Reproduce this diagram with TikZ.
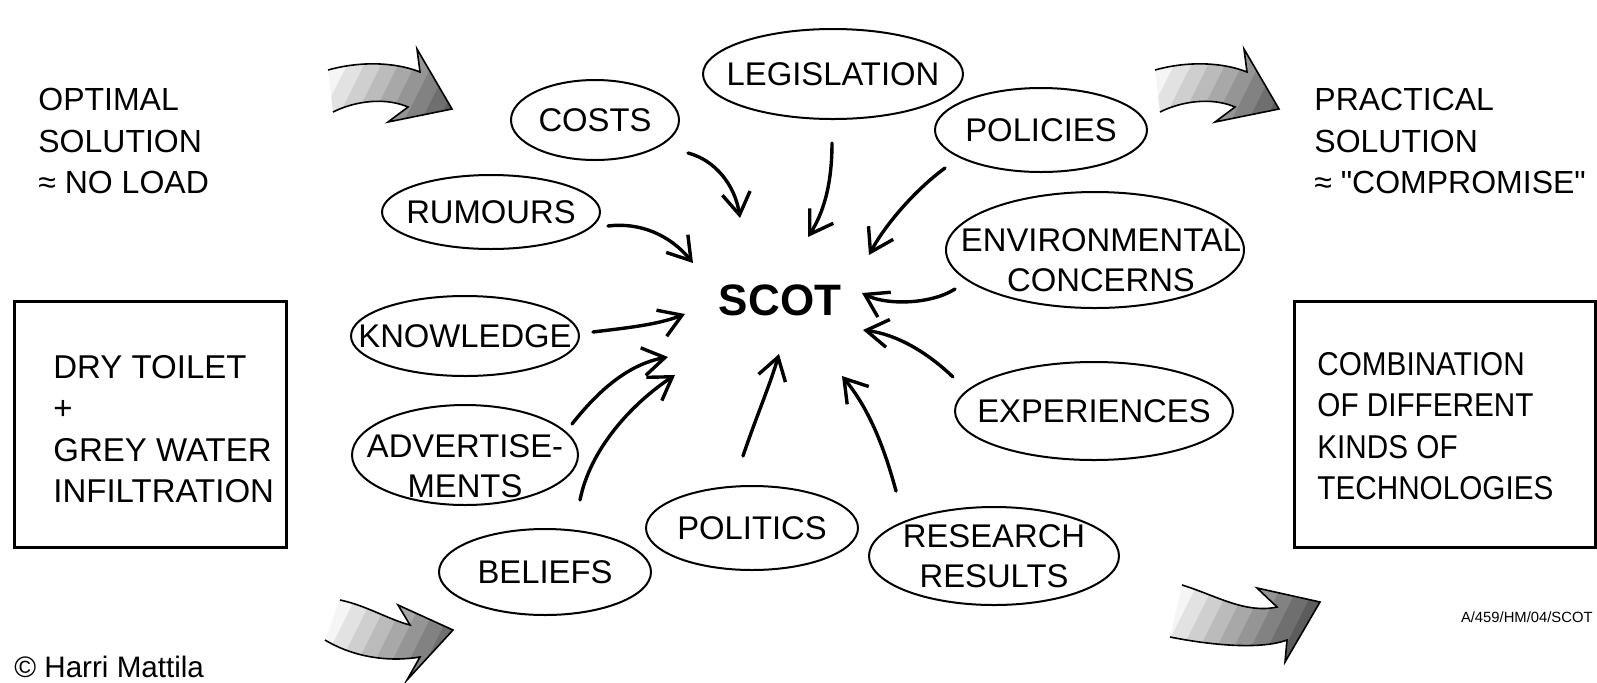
\documentclass[tikz,border=0pt]{standalone}
\usepackage{fontspec}
\setmainfont{Liberation Sans}
\newfontfamily\condfont[FakeStretch=0.9]{Liberation Sans}
\newfontfamily\qfont{Liberation Sans}
\usetikzlibrary{shapes.geometric,arrows.meta}
\newcommand\gstripes[3]{%
  \foreach \i in {0,...,11}{%
    \pgfmathsetmacro\gpct{4+7.5*\i}%
    \fill[black!\gpct] ({#1+17*\i},#3) -- ({#1+17*\i+17.6},#3) -- ({#1+17*\i+17.6+0.5*(#3-#2)},#2) -- ({#1+17*\i+0.5*(#3-#2)},#2) -- cycle;
  }}
\def\aTL{(328,70) .. controls (360,61) and (395,62) .. (420,72) -- (417,49) -- (452,109) -- (388,122) -- (408,107) .. controls (385,97) and (355,101) .. (333,112)}
\def\aBL{(340,600) .. controls (365,605) and (390,620) .. (410,625) -- (398,605) -- (453,630) -- (407,680) -- (420,657) .. controls (390,662) and (355,658) .. (325,640)}
\def\aBR{(1182,585) .. controls (1215,595) and (1245,614) .. (1277,607) -- (1257,588) -- (1320,602) -- (1285,662) -- (1287,640) .. controls (1260,650) and (1210,645) .. (1170,637)}
\begin{document}
\begin{tikzpicture}[x=0.5pt,y=-0.5pt,
  bubble/.style={ellipse,draw,line width=1pt,inner sep=0pt},
  btxt/.style={font=\fontsize{16.4pt}{20pt}\selectfont,align=center,inner sep=0pt},
  txt/.style={font=\fontsize{16pt}{20.75pt}\selectfont,align=left,inner sep=0pt,anchor=north west},
  conn/.style={line width=1.7pt,line cap=round,line join=round,-{Straight Barb[length=11pt,width=14pt]}},
  frame/.style={draw,line width=1.3pt,inner sep=0pt,anchor=north west},
  garrow/.style={draw,line width=0.8pt,line join=miter}
]
\useasboundingbox (0,0) rectangle (1597,682);

% gradient arrows
\begin{scope}
  \clip \aTL -- cycle;
  \gstripes{298}{44}{129}
\end{scope}
\draw[garrow] \aTL;
\begin{scope}[shift={(827,0)}]
  \begin{scope}
    \clip \aTL -- cycle;
    \gstripes{298}{44}{129}
  \end{scope}
  \draw[garrow] \aTL;
\end{scope}
\begin{scope}
  \clip \aBL -- cycle;
  \gstripes{295}{595}{685}
\end{scope}
\draw[garrow] \aBL;
\begin{scope}
  \clip \aBR -- cycle;
  \gstripes{1140}{580}{665}
\end{scope}
\draw[garrow] \aBR;

% side texts
\node[txt] (optimal) at (38,88) {OPTIMAL\\SOLUTION\\≈ NO LOAD};
\node[txt] (practical) at (1314,88) {PRACTICAL\\SOLUTION\\≈ {\qfont"}COMPROMISE{\qfont"}};

\node[frame,minimum width=136pt,minimum height=123pt] (lbox) at (13,300) {};
\node[txt,font=\fontsize{16.5pt}{20.75pt}\selectfont] (ltext) at (53,355) {DRY TOILET\\+\\GREY WATER\\INFILTRATION};
\node[frame,minimum width=150.5pt,minimum height=123pt] (rbox) at (1293,300) {};
\node[txt,font=\fontsize{16.5pt}{20.75pt}\condfont] (rtext) at (1317,352) {COMBINATION\\OF DIFFERENT\\KINDS OF\\TECHNOLOGIES};

% centre
\node[font=\fontsize{22pt}{24pt}\selectfont\bfseries,inner sep=0pt] (scot) at (780,300) {SCOT};

% bubbles
\node[bubble,minimum width=130pt,minimum height=45pt,label={[btxt]center:LEGISLATION}] (legis) at (833,74) {};
\node[bubble,minimum width=84pt,minimum height=40pt,label={[btxt]center:COSTS}] (costs) at (595,120) {};
\node[bubble,minimum width=106pt,minimum height=42pt,label={[btxt]center:POLICIES}] (policies) at (1041,130) {};
\node[bubble,minimum width=109pt,minimum height=37pt,label={[btxt]center:RUMOURS}] (rumours) at (491,212) {};
\node[bubble,minimum width=149pt,minimum height=58pt,label={[btxt,yshift=-5pt,xshift=3pt]center:{ENVIRONMENTAL\\CONCERNS}}] (env) at (1095,250) {};
\node[bubble,minimum width=114pt,minimum height=40pt,label={[btxt]center:KNOWLEDGE}] (knowledge) at (465,336) {};
\node[bubble,minimum width=139pt,minimum height=49pt,label={[btxt]center:EXPERIENCES}] (experiences) at (1094,411) {};
\node[bubble,minimum width=113pt,minimum height=50pt,label={[btxt,yshift=-5.5pt]center:{ADVERTISE-\\MENTS}}] (advert) at (465,455) {};
\node[bubble,minimum width=106pt,minimum height=42pt,label={[btxt]center:POLITICS}] (politics) at (752,528) {};
\node[bubble,minimum width=125pt,minimum height=49pt,label={[btxt]center:{RESEARCH\\RESULTS}}] (research) at (994,556) {};
\node[bubble,minimum width=106pt,minimum height=43pt,label={[btxt]center:BELIEFS}] (beliefs) at (545,572) {};

% connectors
\draw[conn] ([shift={(93,33)}]costs.center) .. controls +(27,7) and +(-5,-33) .. ([shift={(-40,-82)}]scot.center);
\draw[conn] ([shift={(-1,69)}]legis.center) .. controls +(0,45) and +(14,-22) .. ([shift={(28,-63)}]scot.center);
\draw[conn] ([shift={(-96,38)}]policies.center) .. controls +(-30,22) and +(16,-30) .. ([shift={(89,-45)}]scot.center);
\draw[conn] ([shift={(117,14)}]rumours.center) .. controls +(32,-4) and +(-23,-28) .. ([shift={(-87,-37)}]scot.center);
\draw[conn] ([shift={(-140,39)}]env.center) .. controls +(-25,16) and +(23,12) .. ([shift={(82,-7)}]scot.center);
\draw[conn] ([shift={(128,-4)}]knowledge.center) .. controls +(32,-4) and +(-28,11) .. ([shift={(-95,14)}]scot.center);
\draw[conn] ([shift={(-141,-34)}]experiences.center) .. controls +(-23,-22) and +(37,5) .. ([shift={(83,30)}]scot.center);
\draw[conn] ([shift={(107,-31)}]advert.center) .. controls +(23,-29) and +(-43,8) .. ([shift={(-112,57)}]scot.center);
\draw[conn] ([shift={(35,-72)}]beliefs.center) .. controls +(10,-50) and +(-45,30) .. ([shift={(-105,75)}]scot.center);
\draw[conn] ([shift={(-9,-72)}]politics.center) .. controls +(12,-36) and +(-9,31) .. ([shift={(-1,54)}]scot.center);
\draw[conn] ([shift={(-98,-65)}]research.center) .. controls +(-11,-41) and +(28,34) .. ([shift={(62,76)}]scot.center);

% small texts
\node[font=\fontsize{7.4pt}{8pt}\selectfont,inner sep=0pt,anchor=east] (code) at (1593,617) {A/459/HM/04/SCOT};
\node[font=\fontsize{14.8pt}{16pt}\selectfont,inner sep=0pt,anchor=base west] (copy) at (14,677) {\textcopyright{} Harri Mattila};
\end{tikzpicture}
\end{document}
